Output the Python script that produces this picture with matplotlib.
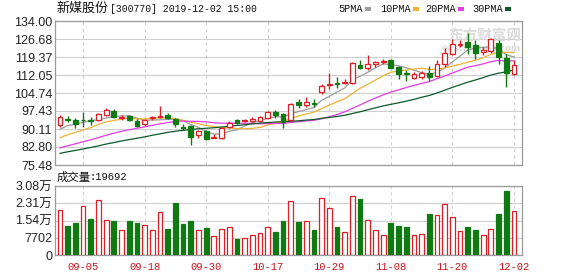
import numpy as np
import matplotlib
matplotlib.use("Agg")
import matplotlib.pyplot as plt
from matplotlib.patches import Rectangle

# ---- daily data, 新媒股份 (300770) ----
dates = ['09-02', '09-03', '09-04', '09-05', '09-06', '09-09', '09-10', '09-11', '09-12', '09-16',
         '09-17', '09-18', '09-19', '09-20', '09-23', '09-24', '09-25', '09-26', '09-27', '09-30',
         '10-08', '10-09', '10-10', '10-11', '10-14', '10-15', '10-16', '10-17', '10-18', '10-21',
         '10-22', '10-23', '10-24', '10-25', '10-28', '10-29', '10-30', '10-31', '11-01', '11-04',
         '11-05', '11-06', '11-07', '11-08', '11-11', '11-12', '11-13', '11-14', '11-15', '11-18',
         '11-19', '11-20', '11-21', '11-22', '11-25', '11-26', '11-27', '11-28', '11-29', '12-02']

opens = [91.8, 94.2, 93.6, 93.6, 93.8, 93.8, 96.0, 97.6, 94.6, 95.2,
         93.4, 92.0, 94.5, 95.0, 96.0, 94.0, 91.0, 91.3, 87.6, 89.4,
         86.6, 86.3, 91.0, 93.6, 93.2, 93.5, 93.4, 94.7, 97.0, 96.3,
         93.7, 100.9, 99.9, 100.7, 105.0, 107.8, 109.0, 108.9, 108.7, 116.0,
         114.7, 116.4, 117.2, 118.1, 115.3, 112.8, 111.0, 111.1, 113.0, 111.5,
         116.5, 120.6, 124.4, 125.3, 124.2, 121.3, 122.0, 125.2, 118.9, 112.3]
highs = [95.6, 95.5, 94.6, 97.0, 95.1, 96.7, 98.5, 98.2, 95.8, 95.8,
         94.0, 94.3, 95.5, 99.6, 96.6, 94.7, 92.0, 91.7, 89.8, 89.8,
         88.0, 90.9, 93.3, 94.0, 94.2, 95.1, 95.5, 97.4, 97.8, 96.6,
         100.8, 102.3, 103.0, 102.3, 108.4, 112.7, 111.1, 110.4, 117.2, 118.3,
         120.3, 117.9, 118.6, 118.5, 115.6, 114.0, 113.2, 113.5, 115.8, 118.2,
         123.0, 126.5, 126.4, 129.1, 126.1, 123.3, 127.1, 126.2, 120.4, 118.3]
lows = [91.0, 93.1, 90.7, 91.0, 91.7, 93.3, 95.2, 94.4, 93.8, 93.2,
        91.0, 91.4, 93.8, 94.5, 94.0, 90.8, 89.6, 83.5, 86.6, 85.6,
        86.3, 86.2, 90.6, 92.1, 92.8, 93.1, 93.0, 94.3, 94.7, 90.6,
        93.3, 98.7, 99.0, 99.2, 104.3, 106.3, 106.7, 108.2, 108.5, 114.4,
        114.0, 115.5, 116.5, 114.7, 110.5, 109.5, 110.4, 110.4, 109.5, 111.2,
        115.5, 120.3, 123.5, 120.7, 118.6, 120.2, 121.1, 116.5, 107.3, 112.1]
closes = [95.0, 93.9, 92.0, 93.6, 93.4, 96.2, 97.8, 94.8, 94.9, 93.8,
          91.4, 93.8, 94.9, 95.3, 94.5, 92.2, 90.7, 87.0, 89.4, 86.2,
          87.0, 90.5, 92.7, 92.6, 93.6, 94.0, 94.9, 97.0, 95.9, 93.0,
          100.3, 99.8, 101.0, 100.2, 107.6, 108.3, 108.5, 109.3, 116.8, 114.8,
          116.4, 117.4, 117.6, 115.0, 112.6, 112.4, 112.4, 112.8, 111.4, 116.7,
          121.1, 124.8, 124.8, 123.6, 120.8, 122.2, 126.6, 119.3, 112.7, 116.0]
volumes = [20000, 12890, 14370, 21770, 16000, 24740, 15550, 15110, 11110, 15110,
           14370, 13330, 11110, 19110, 11550, 23250, 13920, 15110, 11110, 12000,
           8440, 11550, 12440, 7110, 7550, 8890, 9780, 12440, 10220, 15110,
           24000, 14660, 15110, 11110, 25330, 20880, 12440, 10220, 26220, 24880,
           15550, 11110, 8890, 14220, 12890, 12440, 8890, 9330, 18220, 17770,
           22660, 16890, 10660, 12440, 11110, 8890, 11550, 18220, 28440, 19692]
# closes of the 29 sessions before 09-02 (feed the moving averages)
pre_closes = [74.6, 75.3, 76.1, 75.0, 76.4, 75.9, 76.8, 75.5, 76.0, 76.4,
              76.2, 75.8, 77.4, 77.0, 78.3, 78.9, 78.2, 79.6, 80.4, 80.4,
              82.0, 82.5, 83.5, 84.0, 84.0, 86.4, 89.5, 89.4, 89.7]

price_ticks = [75.48, 82.80, 90.11, 97.43, 104.74, 112.05, 119.37, 126.68, 134.00]
price_tick_labels = ['75.48', '82.80', '90.11', '97.43', '104.74', '112.05', '119.37', '126.68', '134.00']
vol_ticks = [0, 7702, 15404, 23106, 30808]
vol_tick_labels = ['0', '7702', '1.54万', '2.31万', '3.08万']
date_ticks = ['09-05', '09-18', '09-30', '10-17', '10-29', '11-08', '11-20', '12-02']
ma_windows = [5, 10, 20, 30]
ma_labels = ['5PMA', '10PMA', '20PMA', '30PMA']
title_name = '新媒股份'
title_info = '[300770] 2019-12-02 15:00'
vol_title = '成交量'
vol_value = ':19692'
watermark_cn = '东方财富网'
watermark_en = 'eastmoney.com'

# ---- style ----
RED = '#dc1f26'
GREEN = '#0f7a12'
MA_COLORS = ['#9c9c9c', '#f0b232', '#e23ce2', '#0c5a2c']
GRID = '#cfcfcf'
FRAME = '#9a9a9a'
W, H = 578, 276
NUM_FONT = ['Liberation Sans', 'Noto Sans CJK SC']
MONO_FONT = ['Liberation Mono', 'Noto Sans CJK SC']
CJK_FONT = ['Noto Sans CJK SC', 'DejaVu Sans']

o = np.array(opens); h = np.array(highs); l = np.array(lows); c = np.array(closes)
v = np.array(volumes)
x = np.arange(len(dates))
candle_up = c > o
vol_up = c >= o

fig = plt.figure(figsize=(W / 100, H / 100), dpi=100)
fig.patch.set_facecolor('white')

def px_box(left, top, right, bottom):
    return [left / W, 1 - bottom / H, (right - left) / W, (bottom - top) / H]

ax1 = fig.add_axes(px_box(55, 21, 522, 165))
ax2 = fig.add_axes(px_box(55, 186, 522, 255))

tick_pos = [dates.index(d) for d in date_ticks]
xlim = (-0.65, 60.05)

for ax in (ax1, ax2):
    ax.set_xlim(*xlim)
    ax.set_xticks(tick_pos)
    ax.xaxis.grid(True, color=GRID, linestyle=(0, (3, 3)), linewidth=0.8)
    ax.yaxis.grid(True, color=GRID, linestyle='-', linewidth=0.8)
    ax.set_axisbelow(True)
    for s in ax.spines.values():
        s.set_color(FRAME)
        s.set_linewidth(0.9)
    ax.tick_params(length=0, pad=2)

# ---- price panel ----
ax1.set_ylim(price_ticks[0], price_ticks[-1])
ax1.set_yticks(price_ticks)
ax1.set_yticklabels(price_tick_labels, fontsize=9, family=NUM_FONT, color='#222222')
ax1.tick_params(axis='x', labelbottom=False)

# watermark, behind the data
ax1.text(0.998, 0.895, watermark_cn, transform=ax1.transAxes, ha='right', va='center',
         fontsize=10.5, fontweight='bold', color='#dcdcdc', family=CJK_FONT, zorder=1)
ax1.text(0.998, 0.81, watermark_en, transform=ax1.transAxes, ha='right', va='center',
         fontsize=6.5, fontweight='bold', color='#dcdcdc', family='DejaVu Sans', zorder=1)

# moving averages over the full close history, shown for the visible sessions
all_closes = np.array(pre_closes + closes)
for win, col in zip(ma_windows, MA_COLORS):
    ma = np.convolve(all_closes, np.ones(win) / win, mode='valid')
    ma = ma[len(ma) - len(closes):]
    ax1.plot(x, ma, color=col, linewidth=0.9, zorder=2)

# candlesticks: hollow red for rising sessions, solid green for falling ones
wick_cols = [RED if u else GREEN for u in candle_up]
ax1.vlines(x, l, h, colors=wick_cols, linewidth=1.0, zorder=3)
ax1.bar(x, np.abs(c - o), bottom=np.minimum(o, c), width=0.62,
        color=['white' if u else GREEN for u in candle_up],
        edgecolor=wick_cols, linewidth=0.9, zorder=4)

# ---- volume panel ----
ax2.set_ylim(vol_ticks[0], vol_ticks[-1])
ax2.set_yticks(vol_ticks)
ax2.set_yticklabels(vol_tick_labels, fontsize=9, family=NUM_FONT, color='#222222')
ax2.set_xticklabels(date_ticks, fontsize=7.6, family=MONO_FONT, color='#c8141c')
ax2.tick_params(axis='x', pad=5)
ax2.bar(x, v, width=0.62,
        color=['white' if u else GREEN for u in vol_up],
        edgecolor=[RED if u else GREEN for u in vol_up], linewidth=0.9, zorder=3)

# ---- header texts ----
fig.text(56 / W, 1 - 8.5 / H, title_name, ha='left', va='center', fontsize=9.4,
         family=CJK_FONT, color='#111111')
fig.text(110 / W, 1 - 8.5 / H, title_info, ha='left', va='center', fontsize=7.0,
         family=MONO_FONT, color='#111111')
fig.text(57 / W, 1 - 177 / H, vol_title, ha='left', va='center', fontsize=8.2,
         family=CJK_FONT, color='#111111')
fig.text(90 / W, 1 - 177 / H, vol_value, ha='left', va='center', fontsize=7.6,
         family=MONO_FONT, color='#111111')

legend_x = [338, 380, 425, 472]
swatch_x = [365, 413, 458, 505]
for lab, lx, sx, col in zip(ma_labels, legend_x, swatch_x, MA_COLORS):
    fig.text(lx / W, 1 - 8.5 / H, lab, ha='left', va='center', fontsize=7.4,
             family=MONO_FONT, color='#111111')
    fig.add_artist(Rectangle((sx / W, 1 - 10.5 / H), 6 / W, 4 / H,
                             transform=fig.transFigure, color=col, lw=0))

fig.savefig('out.png', dpi=100, facecolor='white')
